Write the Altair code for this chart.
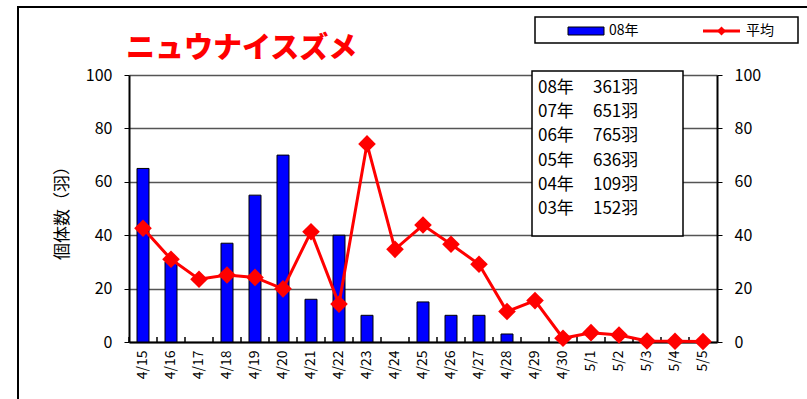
import altair as alt
import pandas as pd

# ---- data ----
dates = ["4/15", "4/16", "4/17", "4/18", "4/19", "4/20", "4/21", "4/22", "4/23", "4/24",
         "4/25", "4/26", "4/27", "4/28", "4/29", "4/30", "5/1", "5/2", "5/3", "5/4", "5/5"]
counts_08 = [65, 30, 0, 37, 55, 70, 16, 40, 10, 0, 15, 10, 10, 3, 0, 0, 0, 0, 0, 0, 0]
average = [42.6, 31.0, 23.5, 25.1, 24.2, 19.9, 41.3, 14.2, 74.2, 34.7, 43.8, 36.6, 29.1,
           11.4, 15.5, 1.4, 3.5, 2.6, 0.4, 0.3, 0.2]
summary_years = ["08年", "07年", "06年", "05年", "04年", "03年"]
summary_counts = [361, 651, 765, 636, 109, 152]
series_names = ["08年", "平均"]
chart_title = "ニュウナイスズメ"
y_title = "個体数（羽）"
y_ticks = [0, 20, 40, 60, 80, 100]

FONT = "Noto Sans CJK JP"
W, H = 588, 267
L, T = 129, 75

df = pd.DataFrame({"date": dates, "count": counts_08, "avg": average})
bars_df = df[df["count"] > 0]
one = pd.DataFrame({"k": [0]})

xenc = alt.X("date:N", sort=dates, title=None,
             scale=alt.Scale(domain=dates, paddingInner=0, paddingOuter=0),
             axis=alt.Axis(labelAngle=270, labelAlign="right", labelBaseline="middle",
                           labelFontSize=14, labelColor="black", labelFont=FONT,
                           labelPadding=8, ticks=False, domainColor="black",
                           domainWidth=2, grid=False))
yscale = alt.Scale(domain=[0, 100], nice=False)

bars = alt.Chart(bars_df).mark_bar(color="#0000ff", stroke="black", strokeWidth=1, width=12).encode(
    x=xenc,
    y=alt.Y("count:Q", scale=yscale, title=y_title,
            axis=alt.Axis(orient="left", values=y_ticks, grid=True, gridColor="#555555",
                          gridWidth=1.5, domainColor="black", domainWidth=2,
                          tickColor="black", tickSize=5, labelFontSize=16,
                          labelColor="black", labelFont=FONT, labelPadding=12,
                          titleFont=FONT, titleFontSize=17, titleFontWeight="normal",
                          titleColor="black", titleAngle=270, titleX=-67, titleY=H / 2,
                          titleAlign="center", titleBaseline="middle")),
)

xticks = alt.Chart(df).mark_rule(color="black", strokeWidth=1.5, xOffset=-14).encode(
    x=alt.X("date:N", sort=dates),
    y=alt.value(H), y2=alt.value(H - 5),
)

line = alt.Chart(df).mark_line(color="#ff0000", strokeWidth=3).encode(
    x=alt.X("date:N", sort=dates),
    y=alt.Y("avg:Q", scale=yscale, title=None,
            axis=alt.Axis(orient="right", values=y_ticks, grid=False, domainColor="black",
                          domainWidth=2, tickColor="black", tickSize=5, labelFontSize=16,
                          labelColor="black", labelFont=FONT, labelPadding=12)),
)
pts = alt.Chart(df).mark_point(shape="diamond", filled=True, color="#ff0000", size=310,
                               opacity=1).encode(
    x=alt.X("date:N", sort=dates),
    y=alt.Y("avg:Q", scale=yscale, axis=None),
)

# outer frame
frame = alt.Chart(one).mark_rect(fill=None, stroke="black", strokeWidth=2).encode(
    x=alt.value(18 - L), x2=alt.value(830 - L), y=alt.value(7 - T), y2=alt.value(420 - T))

title = alt.Chart(one).mark_text(font=FONT, fontSize=29, fontWeight=900, color="#ff0000",
                                 align="left", baseline="middle").encode(
    x=alt.value(126 - L), y=alt.value(49 - T), text=alt.value(chart_title))

# legend
leg_box = alt.Chart(one).mark_rect(fill="white", stroke="black", strokeWidth=1.5).encode(
    x=alt.value(535 - L), x2=alt.value(798 - L), y=alt.value(17 - T), y2=alt.value(43 - T))
leg_bar = alt.Chart(one).mark_rect(fill="#0000ff", stroke="black", strokeWidth=1).encode(
    x=alt.value(568 - L), x2=alt.value(604 - L), y=alt.value(27 - T), y2=alt.value(35 - T))
leg_t1 = alt.Chart(one).mark_text(font=FONT, fontSize=14, color="black", align="left",
                                  baseline="middle").encode(
    x=alt.value(609 - L), y=alt.value(31 - T), text=alt.value(series_names[0]))
leg_line = alt.Chart(one).mark_rule(color="#ff0000", strokeWidth=3).encode(
    x=alt.value(703 - L), x2=alt.value(740 - L), y=alt.value(31 - T))
leg_pt = alt.Chart(one).mark_point(shape="diamond", filled=True, color="#ff0000", size=80,
                                   opacity=1).encode(
    x=alt.value(721.5 - L), y=alt.value(31 - T))
leg_t2 = alt.Chart(one).mark_text(font=FONT, fontSize=14, color="black", align="left",
                                  baseline="middle").encode(
    x=alt.value(746 - L), y=alt.value(31 - T), text=alt.value(series_names[1]))

# summary box
info_box = alt.Chart(one).mark_rect(fill="white", stroke="black", strokeWidth=1.5).encode(
    x=alt.value(532 - L), x2=alt.value(683 - L), y=alt.value(71 - T), y2=alt.value(236 - T))
info_years = alt.Chart(one).mark_text(font=FONT, fontSize=17, color="black", align="left",
                                      baseline="alphabetic", lineHeight=24.2).encode(
    x=alt.value(538 - L), y=alt.value(93 - T), text=alt.value(summary_years))
info_counts = alt.Chart(one).mark_text(font=FONT, fontSize=17, color="black", align="left",
                                       baseline="alphabetic", lineHeight=24.2).encode(
    x=alt.value(593 - L), y=alt.value(93 - T),
    text=alt.value([f"{c}羽" for c in summary_counts]))

chart = alt.layer(
    frame, bars, xticks, line, pts, title,
    leg_box, leg_bar, leg_t1, leg_line, leg_pt, leg_t2,
    info_box, info_years, info_counts,
).resolve_axis(y="independent").properties(
    width=W, height=H,
    autosize=alt.AutoSizeParams(type="none"),
    padding={"left": L, "top": T, "right": 807 - L - W, "bottom": 399 - T - H},
    background="white",
).configure_view(stroke=None)

chart.save("out.html", embed_options={"renderer": "svg", "actions": False})
